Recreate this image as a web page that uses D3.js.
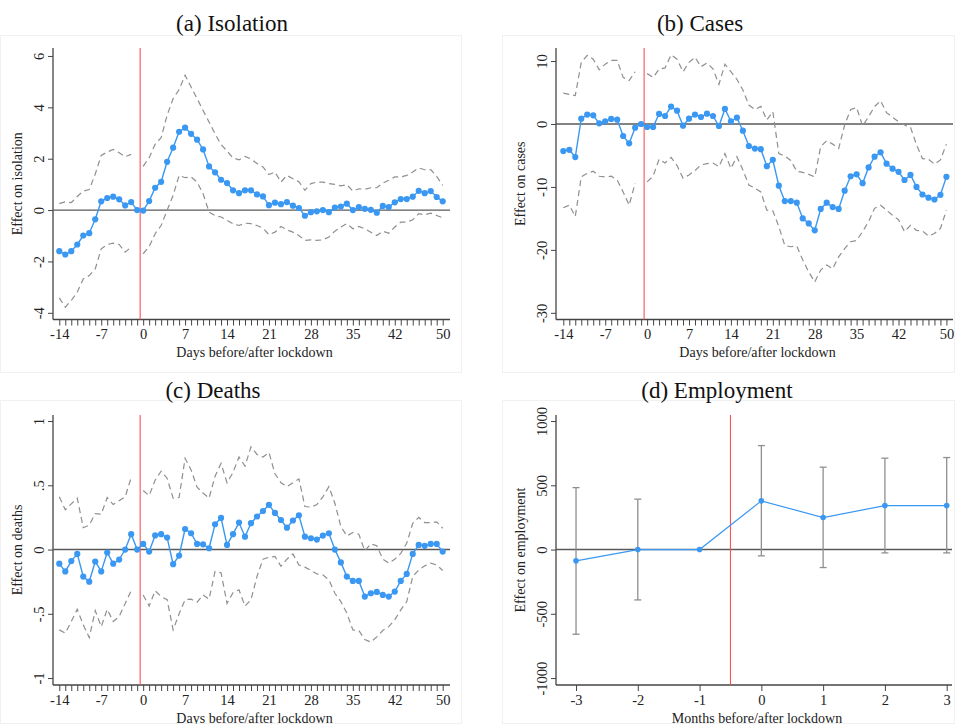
<!DOCTYPE html>
<html lang="en">
<head>
<meta charset="UTF-8">
<title>Event study</title>
<style>
  html, body { margin: 0; padding: 0; background: #fff; }
  svg text { font-family: "Liberation Serif", "Times New Roman", serif; fill: #222; }
</style>
</head>
<body>
<svg id="chart" width="955" height="724"></svg>
<script src="https://d3js.org/d3.v7.min.js"></script>
<script>
// ---- data ----
const days = d3.range(-14, 51);
const dayTicks = [-14, -7, 0, 7, 14, 21, 28, 35, 42, 50];

const isoEst = [-1.60, -1.73, -1.60, -1.34, -0.99, -0.90, -0.36, 0.34, 0.47, 0.52, 0.42, 0.18, 0.31, 0,
  -0.02, 0.35, 0.87, 1.10, 1.88, 2.43, 3.05, 3.21, 2.97, 2.74, 2.36, 1.70, 1.47, 1.18, 1.05, 0.77, 0.66,
  0.77, 0.77, 0.61, 0.53, 0.19, 0.29, 0.23, 0.31, 0.17, 0.08, -0.22, -0.08, -0.05, 0.00, -0.08, 0.10, 0.14,
  0.25, 0.00, 0.12, 0.05, 0.01, -0.10, 0.16, 0.12, 0.30, 0.43, 0.43, 0.52, 0.75, 0.66, 0.74, 0.51, 0.34];
const isoHi = [0.25, 0.32, 0.29, 0.53, 0.74, 0.80, 1.40, 2.13, 2.26, 2.36, 2.23, 2.08, 2.17, null,
  1.70, 2.04, 2.56, 2.82, 3.69, 4.34, 4.69, 5.25, 4.79, 4.34, 3.88, 3.43, 2.97, 2.55, 2.30, 2.03, 1.96,
  2.09, 1.99, 1.81, 1.68, 1.38, 1.48, 1.09, 1.35, 1.22, 1.10, 0.77, 1.03, 1.09, 1.09, 1.03, 1.00, 0.94,
  0.99, 0.74, 0.83, 0.81, 0.87, 0.87, 1.05, 1.16, 1.29, 1.29, 1.35, 1.48, 1.64, 1.57, 1.58, 1.31, 0.96];
const isoLo = [-3.42, -3.78, -3.52, -3.19, -2.68, -2.55, -2.29, -1.51, -1.34, -1.29, -1.34, -1.64, -1.44, null,
  -1.70, -1.42, -0.92, -0.60, -0.01, 0.57, 1.35, 1.26, 1.29, 1.09, 0.64, -0.08, -0.21, -0.27, -0.40, -0.53, -0.60,
  -0.51, -0.53, -0.60, -0.70, -0.96, -0.86, -0.64, -0.77, -0.86, -0.99, -1.18, -1.16, -1.18, -1.16, -1.05, -0.82, -0.66,
  -0.53, -0.73, -0.64, -0.73, -0.86, -0.99, -0.82, -0.90, -0.66, -0.47, -0.47, -0.38, -0.14, -0.18, -0.12, -0.21, -0.30];

const casesEst = [-4.3, -4.1, -5.25, 0.85, 1.49, 1.38, 0.1, 0.42, 0.8, 0.69, -1.91, -3.08, -0.58, 0,
  -0.48, -0.48, 1.59, 1.27, 2.76, 2.12, -0.27, 0.85, 1.49, 1.11, 1.64, 1.27, -0.32, 2.39, 0.42, 1.0, -1.06,
  -3.5, -3.9, -4.0, -6.7, -5.7, -9.8, -12.25, -12.25, -12.5, -15.0, -15.8, -16.9, -13.5, -12.5, -13.2, -13.5, -10.6,
  -8.3, -8.0, -9.4, -6.9, -5.2, -4.5, -6.3, -7.1, -7.6, -8.9, -8.1, -10.0, -11.2, -11.7, -12.0, -11.25, -8.4];
const casesHi = [4.9, 4.7, 4.5, 9.8, 10.9, 10.3, 8.6, 9.5, 10.1, 10.1, 7.4, 6.9, 8.3, null,
  8.0, 7.4, 8.7, 8.9, 11.0, 10.3, 8.3, 9.8, 10.6, 9.1, 9.7, 8.75, 6.3, 9.5, 8.3, 7.1, 5.4,
  3.0, 2.3, 2.8, 0.64, 1.96, -4.7, -5.1, -5.8, -7.5, -7.7, -8.0, -8.4, -3.6, -2.65, -3.2, -3.9, -0.16,
  2.3, 2.6, -0.32, 1.17, 2.76, 3.7, 1.8, 1.06, 0.37, -0.16, -0.53, -3.3, -5.5, -5.6, -6.4, -5.7, -3.2];
const casesLo = [-13.3, -12.9, -14.7, -8.4, -7.85, -7.5, -8.3, -8.4, -8.3, -8.9, -10.8, -12.9, -9.4, null,
  -9.2, -8.3, -5.6, -6.2, -5.3, -6.6, -8.6, -8.1, -7.4, -6.5, -6.3, -6.2, -6.8, -4.7, -7.05, -5.2, -7.3,
  -9.7, -10.2, -10.8, -13.7, -13.8, -16.3, -19.3, -19.5, -19.4, -21.6, -23.5, -25.1, -23.2, -22.4, -23.0, -21.1, -19.8,
  -18.7, -18.5, -17.1, -15.5, -13.4, -12.9, -13.7, -14.5, -15.2, -17.1, -16.1, -16.9, -17.0, -17.8, -17.4, -16.6, -13.7];

const deathsEst = [-0.11, -0.17, -0.09, -0.034, -0.21, -0.25, -0.093, -0.17, -0.023, -0.11, -0.078, 0.0, 0.12, 0,
  0.044, -0.016, 0.11, 0.12, 0.093, -0.114, -0.047, 0.16, 0.127, 0.044, 0.041, 0.01, 0.197, 0.246, 0.036, 0.12, 0.21,
  0.10, 0.205, 0.257, 0.30, 0.348, 0.285, 0.23, 0.17, 0.226, 0.267, 0.10, 0.088, 0.078, 0.109, 0.127, 0.0, -0.10,
  -0.21, -0.244, -0.244, -0.366, -0.34, -0.33, -0.353, -0.366, -0.327, -0.244, -0.19, -0.034, 0.036, 0.029, 0.044, 0.044, -0.016];
const deathsHi = [0.41, 0.31, 0.355, 0.40, 0.17, 0.19, 0.28, 0.275, 0.405, 0.35, 0.38, 0.41, 0.56, null,
  0.46, 0.42, 0.54, 0.61, 0.555, 0.40, 0.405, 0.71, 0.62, 0.485, 0.44, 0.40, 0.57, 0.67, 0.52, 0.60, 0.72,
  0.65, 0.80, 0.74, 0.72, 0.755, 0.59, 0.52, 0.49, 0.52, 0.55, 0.335, 0.33, 0.35, 0.41, 0.49, 0.36, 0.18,
  0.106, 0.132, 0.12, -0.01, 0.044, 0.03, -0.075, -0.106, -0.075, -0.03, 0.05, 0.205, 0.25, 0.21, 0.21, 0.215, 0.166];
const deathsLo = [-0.625, -0.65, -0.56, -0.465, -0.586, -0.685, -0.475, -0.60, -0.465, -0.56, -0.52, -0.42, -0.32, null,
  -0.353, -0.44, -0.32, -0.366, -0.39, -0.625, -0.50, -0.39, -0.386, -0.41, -0.353, -0.386, -0.17, -0.18, -0.42, -0.335, -0.314,
  -0.44, -0.39, -0.21, -0.075, -0.06, -0.054, -0.13, -0.075, -0.034, -0.12, -0.137, -0.163, -0.19, -0.197, -0.236, -0.34, -0.405,
  -0.495, -0.625, -0.63, -0.70, -0.72, -0.68, -0.63, -0.60, -0.547, -0.47, -0.405, -0.21, -0.158, -0.127, -0.106, -0.12, -0.163];

const months = [-3, -2, -1, 0, 1, 2, 3];
const empEst = [-88, 0, 0, 379, 249, 342, 342];
const empHi = [482, 392, null, 809, 641, 711, 716];
const empLo = [-659, -392, null, -49, -140, -26, -26];

const panels = [
  { title: "(a) Isolation", ytitle: "Effect on isolation", xtitle: "Days before/after lockdown",
    x: days, est: isoEst, hi: isoHi, lo: isoLo, yTicks: [-4, -2, 0, 2, 4, 6], yFmt: d => String(d),
    box: { x0: 53, x1: 450, y0: 48, y1: 319.5 }, xDom: [-15.05, 51.22], yDom: [-4.26, 6.31],
    frame: [0, 35, 462, 373], titleX: 232, titleY: 31 },
  { title: "(b) Cases", ytitle: "Effect on cases", xtitle: "Days before/after lockdown",
    x: days, est: casesEst, hi: casesHi, lo: casesLo, yTicks: [-30, -20, -10, 0, 10], yFmt: d => String(d),
    box: { x0: 556, x1: 953, y0: 48, y1: 319.5 }, xDom: [-15.22, 51.1], yDom: [-31.06, 12.07],
    frame: [502, 35, 955, 373], titleX: 700, titleY: 31 },
  { title: "(c) Deaths", ytitle: "Effect on deaths", xtitle: "Days before/after lockdown",
    x: days, est: deathsEst, hi: deathsHi, lo: deathsLo, yTicks: [-1, -0.5, 0, 0.5, 1],
    yFmt: d => d === 0 ? "0" : String(d).replace("0.", "."),
    box: { x0: 53, x1: 450, y0: 415, y1: 685 }, xDom: [-15.05, 51.22], yDom: [-1.054, 1.047],
    frame: [0, 400, 462, 724], titleX: 213, titleY: 398 },
  { title: "(d) Employment", ytitle: "Effect on employment", xtitle: "Months before/after lockdown",
    x: months, est: empEst, hi: empHi, lo: empLo, yTicks: [-1000, -500, 0, 500, 1000], yFmt: d => String(d),
    box: { x0: 556, x1: 952, y0: 415, y1: 685 }, xDom: [-3.324, 3.086], yDom: [-1054, 1047],
    frame: [502, 400, 955, 724], titleX: 717, titleY: 398, bars: true }
];

const svg = d3.select("#chart");
const blue = "#3a98f2", axisCol = "#444", ciCol = "#8f8f8f";
const tickFont = "14.5px", labFont = "14px";

panels.forEach(p => {
  const g = svg.append("g");
  const b = p.box;
  const x = d3.scaleLinear().domain(p.xDom).range([b.x0, b.x1]);
  const y = d3.scaleLinear().domain(p.yDom).range([b.y1, b.y0]);

  // faint image frame
  g.append("rect").attr("x", p.frame[0] + 0.5).attr("y", p.frame[1] + 0.5)
    .attr("width", p.frame[2] - p.frame[0] - 1).attr("height", p.frame[3] - p.frame[1] - 1)
    .attr("fill", "none").attr("stroke", "#f1f1f1");

  g.append("text").attr("x", p.titleX).attr("y", p.titleY).attr("text-anchor", "middle")
    .style("font-size", "23px").style("fill", "#111").text(p.title);

  // x axis
  const xTicks = p.bars ? months : days;
  const xAxis = d3.axisBottom(x).tickValues(xTicks).tickSize(6).tickSizeOuter(0)
    .tickFormat(d => (p.bars || dayTicks.includes(d)) ? d : "");
  const gx = g.append("g").attr("transform", `translate(0,${b.y1})`).call(xAxis);
  gx.select(".domain").attr("stroke", axisCol).attr("stroke-width", 1.3)
    .attr("d", `M${b.x0},0H${b.x1}`);
  gx.selectAll(".tick line").attr("stroke", axisCol).attr("stroke-width", 1);
  gx.selectAll(".tick text").attr("y", 9.5).attr("dy", "0.71em")
    .style("font-size", tickFont).style("font-family", "Liberation Serif, serif").attr("fill", "#222");

  // y axis
  const yAxis = d3.axisLeft(y).tickValues(p.yTicks).tickSize(5).tickSizeOuter(0).tickFormat(p.yFmt);
  const gy = g.append("g").attr("transform", `translate(${b.x0},0)`).call(yAxis);
  gy.select(".domain").attr("stroke", axisCol).attr("stroke-width", 1.3)
    .attr("d", `M0,${b.y0}V${b.y1}`);
  gy.selectAll(".tick line").attr("stroke", axisCol);
  gy.selectAll(".tick text").attr("x", 0).attr("y", 0).attr("dy", 0)
    .attr("text-anchor", "middle")
    .attr("transform", "translate(-9.5,0) rotate(-90)")
    .style("font-size", tickFont).style("font-family", "Liberation Serif, serif").attr("fill", "#222");

  // axis titles
  g.append("text").attr("x", (b.x0 + b.x1) / 2 + 3).attr("y", b.y1 + 37.5).attr("text-anchor", "middle")
    .style("font-size", labFont).text(p.xtitle);
  g.append("text").attr("transform", `translate(${b.x0 - 31},${(b.y0 + b.y1) / 2}) rotate(-90)`)
    .attr("text-anchor", "middle").style("font-size", labFont).text(p.ytitle);

  // zero line and lockdown line
  g.append("line").attr("x1", b.x0).attr("x2", b.x1).attr("y1", y(0)).attr("y2", y(0))
    .attr("stroke", "#5a5a5a").attr("stroke-width", 1.4);
  g.append("line").attr("x1", x(-0.5)).attr("x2", x(-0.5)).attr("y1", b.y0).attr("y2", b.y1)
    .attr("stroke", "#ff5050").attr("stroke-width", 1.1);

  const rows = p.x.map((d, i) => ({ x: d, est: p.est[i], hi: p.hi[i], lo: p.lo[i] }));

  if (p.bars) {
    const eb = rows.filter(r => r.hi !== null);
    g.selectAll(".eb").data(eb).join("line")
      .attr("x1", r => x(r.x)).attr("x2", r => x(r.x))
      .attr("y1", r => y(r.hi)).attr("y2", r => y(r.lo))
      .attr("stroke", ciCol).attr("stroke-width", 1.3);
    ["hi", "lo"].forEach(k => {
      g.selectAll(".cap" + k).data(eb).join("line")
        .attr("x1", r => x(r.x) - 3.5).attr("x2", r => x(r.x) + 3.5)
        .attr("y1", r => y(r[k])).attr("y2", r => y(r[k]))
        .attr("stroke", ciCol).attr("stroke-width", 1.3);
    });
  } else {
    ["hi", "lo"].forEach(k => {
      const ln = d3.line().defined(r => r[k] !== null).x(r => x(r.x)).y(r => y(r[k]));
      g.append("path").attr("d", ln(rows)).attr("fill", "none")
        .attr("stroke", ciCol).attr("stroke-width", 1.2).attr("stroke-dasharray", "6,4");
    });
  }

  const estLine = d3.line().x(r => x(r.x)).y(r => y(r.est));
  g.append("path").attr("d", estLine(rows)).attr("fill", "none")
    .attr("stroke", blue).attr("stroke-width", p.bars ? 1.2 : 1.4);
  g.selectAll(".pt").data(rows).join("circle")
    .attr("cx", r => x(r.x)).attr("cy", r => y(r.est))
    .attr("r", p.bars ? 2.8 : 3.1).attr("fill", blue);
});
</script>
</body>
</html>
